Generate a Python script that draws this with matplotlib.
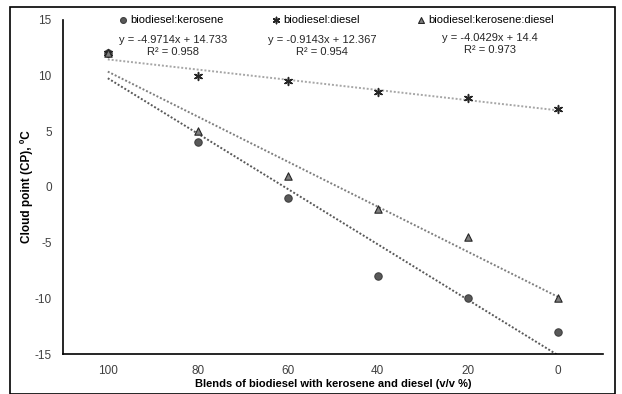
import matplotlib.pyplot as plt
from matplotlib.patches import Rectangle
import numpy as np

plt.rcParams['font.family'] = ['Liberation Sans', 'DejaVu Sans']
plt.rcParams['axes.unicode_minus'] = False

blends = [100, 80, 60, 40, 20, 0]
kerosene = [12, 4, -1, -8, -10, -13]
diesel = [12, 10, 9.5, 8.5, 8, 7]
kero_diesel = [12, 5, 1, -2, -4.5, -10]

names = ['biodiesel:kerosene', 'biodiesel:diesel', 'biodiesel:kerosene:diesel']
eqs = ['y = -4.9714x + 14.733', 'y = -0.9143x + 12.367', 'y = -4.0429x + 14.4']
r2s = ['R² = 0.958', 'R² = 0.954', 'R² = 0.973']

fig = plt.figure(figsize=(6.22, 3.94), dpi=100)
ax = fig.add_axes([0.101, 0.1015, 0.868, 0.848])

# outer frame like the exported excel chart
fig.patches.append(Rectangle((10/622, 0), 605/622, 1-7/394, transform=fig.transFigure,
                             fill=False, edgecolor='black', linewidth=1.2))

x = np.array(blends, dtype=float)
series = [kerosene, diesel, kero_diesel]
markers = ['o', (6, 2, 0), '^']
mcolors = ['#595959', '#262626', '#7f7f7f']
lcolors = ['#595959', '#a6a6a6', '#7f7f7f']

handles = []
for s, m, mc, lc, nm in zip(series, markers, mcolors, lcolors, names):
    y = np.array(s, dtype=float)
    if m == 'o':
        h = ax.scatter(x, y, marker=m, s=28, c=mc, edgecolors='#404040', linewidths=0.8, zorder=3, label=nm)
    elif m == '^':
        h = ax.scatter(x, y, marker=m, s=28, c=mc, edgecolors='#262626', linewidths=0.8, zorder=3, label=nm)
    else:
        h = ax.scatter(x, y, marker=m, s=32, c=mc, linewidths=1.1, zorder=3, label=nm)
    handles.append(h)
    k, b = np.polyfit(x, y, 1)
    ax.plot(x, k*x + b, linestyle=(0, (1, 1)), color=lc, linewidth=1.4, zorder=2)

ax.set_xlim(110, -10)
ax.set_ylim(-15, 15)
ax.set_xticks(blends)
ax.set_yticks([-15, -10, -5, 0, 5, 10, 15])
ax.tick_params(length=0, labelsize=8.5, colors='#404040', pad=8)
for sp in ['top', 'right']:
    ax.spines[sp].set_visible(False)
ax.spines['left'].set_linewidth(1.2)
ax.spines['bottom'].set_linewidth(1.2)

ax.set_xlabel('Blends of biodiesel with kerosene and diesel (v/v %)', fontsize=8, fontweight='bold', labelpad=1)
ax.set_ylabel('Cloud point (CP), ºC', fontsize=8.5, fontweight='bold', labelpad=1)

# legend entries placed one by one along the top
leg_x = [117, 270, 415]
for h, nm, lx in zip(handles, names, leg_x):
    lg = fig.legend(handles=[h], labels=[nm], loc='center left', bbox_to_anchor=(lx/622, 1-20/394),
                    frameon=False, fontsize=8, handletextpad=0.2, markerscale=0.8,
                    handlelength=1.0, borderpad=0, borderaxespad=0)

eq_pos = [(173, 40), (322, 40), (490, 38)]
for (px, py), e, r in zip(eq_pos, eqs, r2s):
    fig.text(px/622, 1-py/394, e, fontsize=8, ha='center', va='center', color='#262626')
    fig.text(px/622, 1-(py+12)/394, r, fontsize=8, ha='center', va='center', color='#262626')

plt.savefig('out.png', dpi=100)
